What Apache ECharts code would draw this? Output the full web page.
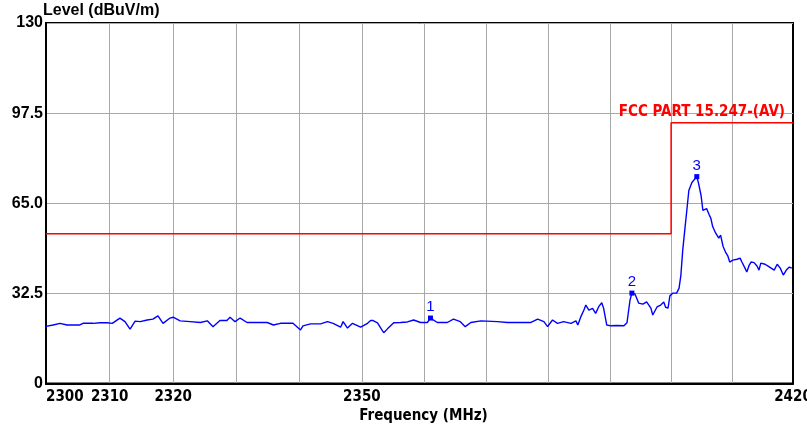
<!DOCTYPE html>
<html>
<head>
<meta charset="utf-8">
<script src="https://cdn.jsdelivr.net/npm/echarts@6/dist/echarts.min.js"></script>
<style>html,body{margin:0;padding:0;background:#fff}#c{width:807px;height:430px}</style>
</head>
<body>
<div id="c"></div>
<script>
// ---- data ----
const freqMHz = [2300,2301.1,2302.2,2303.3,2305.3,2305.8,2307.4,2308.5,2309.6,2310.4,2311.6,2312.4,2313.2,2314.0,2314.8,2315.9,2316.8,2317.6,2318.4,2319.5,
2320.0,2321.1,2322.7,2324.3,2325.4,2326.3,2327.4,2328.5,2329.0,2329.8,2330.6,2331.7,2333.8,2334.9,2335.9,2337.0,2339.0,2340.2,2340.6,2341.8,
2343.4,2344.5,2345.4,2346.6,2347.0,2347.7,2348.5,2349.8,2350.9,2351.4,2351.8,2352.5,2353.0,2353.5,2354.1,2355.1,2356.2,2357.3,2358.3,2359.4,
2360.5,2361.0,2362.1,2363.7,2364.7,2365.8,2366.6,2367.5,2369.1,2371.8,2373.4,2375.5,2377.2,2378.3,2379.3,2379.9,2380.7,2381.5,2382.5,2383.7,
2384.5,2384.8,2385.3,2385.8,2386.1,2386.6,2387.2,2387.7,2388.2,2388.7,2389.0,2389.5,2390.2,2391.1,2392.3,2392.8,2393.3,2393.6,2394.1,2394.7,
2395.4,2396.0,2396.7,2397.0,2397.7,2398.3,2398.8,2399.1,2399.5,2399.8,2400.3,2400.9,2401.3,2401.6,2401.9,2402.2,2402.6,2402.9,2403.4,2403.7,
2404.2,2404.5,2404.9,2405.2,2405.5,2405.8,2406.2,2406.5,2406.8,2407.3,2407.8,2408.1,2408.5,2408.9,2409.3,2409.6,2410.1,2410.8,2411.3,2411.6,
2412.1,2412.4,2412.8,2413.1,2413.6,2414.1,2414.4,2414.7,2415.4,2415.9,2416.4,2416.9,2417.4,2417.9,2418.4,2418.9,2419.4,2419.8];
const levelDb = [20.6,21.1,21.7,21.1,21.1,21.7,21.7,21.9,21.9,21.7,23.6,22.3,19.6,22.5,22.3,22.9,23.2,24.4,21.7,23.6,
23.9,22.6,22.3,22.0,22.6,20.5,22.7,22.7,23.9,22.3,23.6,22.0,22.0,22.0,21.1,21.7,21.7,19.3,20.8,21.5,
21.5,22.3,21.7,20.3,22.3,20.0,21.7,20.3,21.7,22.7,22.7,21.9,20.1,18.3,19.7,21.9,22.0,22.2,22.9,22.0,
22.0,23.6,22.0,22.0,23.2,22.3,20.5,22.0,22.6,22.3,22.0,22.0,22.0,23.2,22.3,20.5,22.9,21.7,22.3,21.7,
22.6,21.1,24.1,26.5,28.3,26.5,27.1,25.3,27.7,29.1,27.1,21.1,20.8,20.9,20.8,21.9,30.1,32.6,32.3,29.0,
28.6,29.4,27.2,24.7,27.6,28.3,29.4,27.5,27.2,31.6,32.6,32.6,34.4,39.1,48.1,54.6,63.1,69.6,72.5,73.2,
74.6,72.1,67.8,62.4,62.1,63.1,61.0,59.6,56.6,54.2,52.4,53.5,49.5,47.4,45.9,43.8,44.5,44.8,45.2,43.8,
41.6,40.2,42.7,43.8,43.6,42.3,40.9,43.4,43.0,42.3,41.6,40.9,43.0,41.6,39.1,40.9,42.0,41.6];
const limitFreq = [2300, 2400, 2400, 2420];
const limitLevel = [54, 54, 94, 94];
const limitName = 'FCC PART 15.247-(AV)';
const markerFreq = [2361.0, 2393.6, 2404.2];
const markerLevel = [23.6, 32.6, 74.6];
const markerName = ['1', '2', '3'];
const xGridTicks = [2310, 2320, 2330, 2340, 2350, 2360, 2370, 2380, 2390, 2400, 2410];
const xLabelTicks = [2300.001, 2310, 2320, 2350, 2419.999];
const yTickLabels = ['0', '32.5', '65.0', '97.5', '130'];

const narrow = 'Liberation Sans Narrow, DejaVu Sans Condensed, sans-serif';
const chart = echarts.init(document.getElementById('c'), null, {renderer: 'canvas'});
const gridLine = {show: true, lineStyle: {color: '#a8a8a8', width: 1, type: 'solid'}};
chart.setOption({
  animation: false,
  backgroundColor: '#ffffff',
  grid: {left: 46, right: 14, top: 23, bottom: 46.5, show: true, borderColor: '#000', borderWidth: 2, containLabel: false, outerBoundsMode: 'none'},
  xAxis: {
    type: 'log', logBase: 10, min: 2300, max: 2420,
    name: 'Frequency (MHz)', nameLocation: 'middle', nameGap: 25, nameMoveOverlap: false,
    nameTextStyle: {fontFamily: narrow, fontWeight: 'bold', fontSize: 15, color: '#000', verticalAlign: 'top', padding: [0, 0, 0, 8]},
    axisLine: {show: true, onZero: false, lineStyle: {color: '#000', width: 2}},
    axisTick: {show: false, customValues: xGridTicks},
    splitLine: gridLine,
    minorTick: {show: false}, minorSplitLine: {show: false},
    axisLabel: {
      customValues: xLabelTicks, margin: 6, alignMinLabel: 'left', alignMaxLabel: 'center',
      fontFamily: narrow, fontWeight: 'bold', fontSize: 15, color: '#000',
      formatter: v => String(Math.round(v)), hideOverlap: false, showMinLabel: true, showMaxLabel: true
    }
  },
  yAxis: {
    type: 'value', min: 0, max: 130, interval: 32.5,
    name: 'Level (dBuV/m)', nameLocation: 'end', nameGap: 4, nameMoveOverlap: false,
    nameTextStyle: {align: 'left', verticalAlign: 'bottom', fontFamily: 'Liberation Sans, Arial, sans-serif', fontWeight: 'bold', fontSize: 16, color: '#000', padding: [0, 0, 0, -3]},
    axisLine: {show: true, lineStyle: {color: '#000', width: 2}},
    axisTick: {show: false},
    splitLine: gridLine,
    axisLabel: {
      margin: 3, fontFamily: 'Liberation Sans, Arial, sans-serif', fontWeight: 'bold', fontSize: 16, color: '#000',
      formatter: (v) => yTickLabels[Math.round(v / 32.5)], hideOverlap: false
    }
  },
  series: [
    {
      type: 'line', name: limitName, showSymbol: false, silent: true,
      data: limitFreq.map((f, i) => [f, limitLevel[i]]),
      lineStyle: {color: '#ff0000', width: 1.5},
      markPoint: {
        symbol: 'circle', symbolSize: 0,
        data: [{coord: [limitFreq[3], limitLevel[3]], name: limitName}],
        label: {show: true, position: 'left', distance: 8, offset: [0, -11], formatter: '{b}',
          fontFamily: narrow, fontWeight: 'bold', fontSize: 15, color: '#ff0000'}
      }
    },
    {
      type: 'line', name: 'Level', showSymbol: false, silent: true,
      data: freqMHz.map((f, i) => [f, levelDb[i]]),
      lineStyle: {color: '#0000ff', width: 1.4},
      markPoint: {
        symbol: 'rect', symbolSize: 5,
        itemStyle: {color: '#0000ff'},
        data: markerFreq.map((f, i) => ({coord: [f, markerLevel[i]], name: markerName[i]})),
        label: {show: true, position: 'top', distance: 1, formatter: '{b}',
          fontFamily: 'Liberation Sans, Arial, sans-serif', fontSize: 15, color: '#0000ff'}
      }
    }
  ]
});
</script>
</body>
</html>
